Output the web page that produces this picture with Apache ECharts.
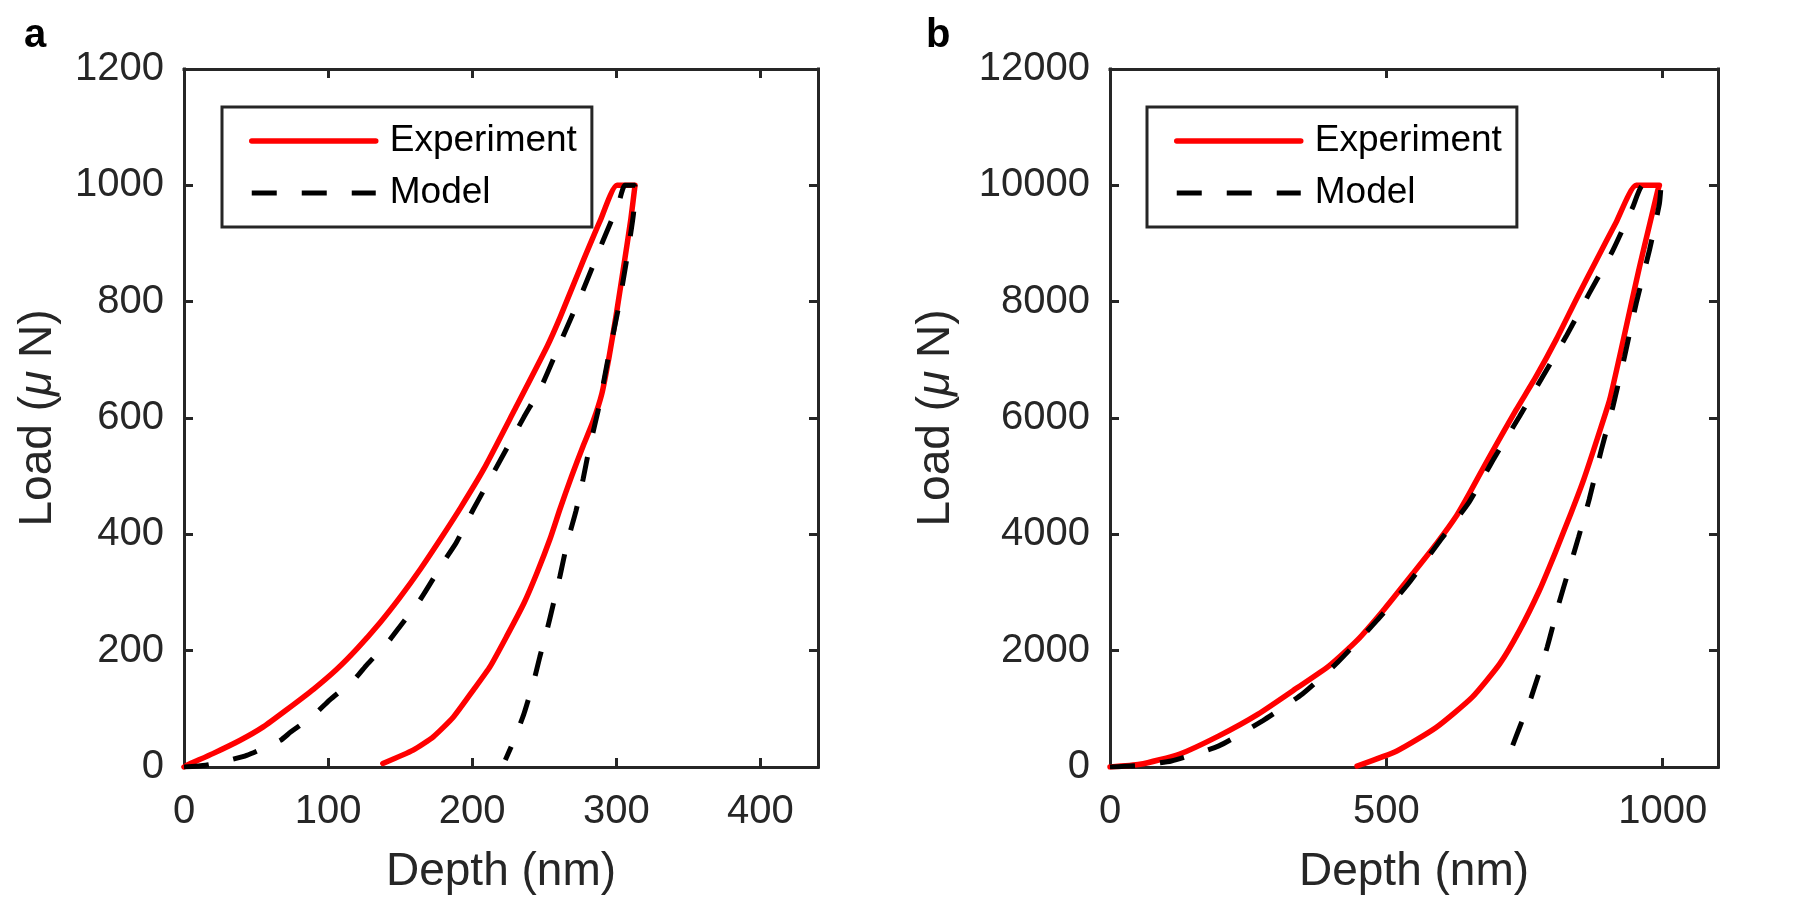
<!DOCTYPE html>
<html>
<head>
<meta charset="utf-8">
<script src="https://cdn.jsdelivr.net/npm/echarts@6/dist/echarts.min.js"></script>
<style>
html,body{margin:0;padding:0;background:#fff;}
#chart{width:1800px;height:900px;}
</style>
</head>
<body>
<div id="chart"></div>
<script>
// ---- Panel a data ----
const depthExpA  = [0,2,20,39,55,71,90,106,120,136,150,164,178,192,208,229,252,261,275,289,300.5,313,310,305,300,295,290,284,277,269,261,254,245,236,224,212.5,201,187,173,159,138];
const loadExpA   = [0,3,23,46,69,98,134,168,203,248,292,340,392,446,512,612,723,773,858,940,1000,1000,940,858,778,705,642,595,552,500,444,392,334,282,225,173,133,86,52,29,6];
const depthModelA = [0,15,27,43.5,67,74,90,101,118,127,141,150,164,180,189,201,215,236,248,263,277,291,301.6,306,313,312,307,301,294,287.5,281,277,272,266,261,256,252,247,243,236,229,223];
const loadModelA  = [0,3,9,20,46,60,89,115,150,176,213,242,288,352,386,444,507,602,654,740,820,906,969,1000,1000,952,869,783,698,614,545,495,440,386,329,277,236,190,150,92,46,12];

// ---- Panel b data ----
const depthExpB  = [0,54,125,197,268,340,397,447,497,548,591,626,650,687,735,771,807,843,880,916,952,994,991,976,958,940,922,904,883,857,834,805,777,741,705,655,590,519,447];
const loadExpB   = [0,46,219,535,909,1370,1744,2176,2722,3327,3845,4305,4700,5343,6143,6714,7343,8029,8714,9371,10000,10000,9914,9314,8600,7829,7057,6314,5686,4940,4363,3672,3039,2349,1773,1197,679,276,17];
const depthModelB = [0,50,111,197,276,348,412,483,540,598,650,695,741,783,825,867,910,946,964,997,994,976,952,931,910,889,867,848,830,812,791,762,741,727];
const loadModelB  = [0,25,104,363,794,1255,1801,2520,3154,3902,4560,5310,6029,6714,7400,8143,8886,9629,10000,10000,9686,8886,7971,7057,6200,5457,4600,3960,3384,2809,2061,1197,679,334];

// ---- Axis ticks ----
const xTicksA = [0,100,200,300,400];
const yTicksA = [0,200,400,600,800,1000,1200];
const xTicksB = [0,500,1000];
const yTicksB = [0,2000,4000,6000,8000,10000,12000];
const xMaxA = 440, yMaxA = 1200, xMaxB = 1100, yMaxB = 12000;

const seriesNames = ['Experiment','Model'];
const panelLabels = ['a','b'];
const xTitle = 'Depth (nm)';
const yTitle = 'Load ({mu|μ} N)';

function zip(a,b){ return a.map((v,i)=>[v,b[i]]); }

const FONT = 'Liberation Sans, Arial, Helvetica, sans-serif';
const AX = '#262626';
const RED = '#ff0000';
const BLACK = '#000000';

function baseAxis(grid, max, ticks, pos, showLabel, extra){
  return Object.assign({
    type:'value', gridIndex:grid, min:0, max:max, position:pos,
    axisLine:{show:true, onZero:false, lineStyle:{color:AX, width:3, cap:'square'}},
    axisTick:{show:true, inside:true, length:9, customValues:ticks, lineStyle:{color:AX, width:3}},
    axisLabel:{show:showLabel, customValues:ticks, color:AX, fontSize:40, fontFamily:FONT,
               formatter:function(v){ return String(v); }},
    splitLine:{show:false}
  }, extra||{});
}

const xNameStyle = {fontSize:46, color:AX, fontFamily:FONT};
const yNameStyle = {fontSize:46, color:AX, fontFamily:FONT, rich:{mu:{fontSize:46, color:AX, fontFamily:FONT, fontStyle:'italic'}}};

const xAxes = [
  baseAxis(0, xMaxA, xTicksA, 'bottom', true, {name:xTitle, nameLocation:'middle', nameGap:82, nameTextStyle:xNameStyle}),
  baseAxis(0, xMaxA, xTicksA, 'top', false),
  baseAxis(1, xMaxB, xTicksB, 'bottom', true, {name:xTitle, nameLocation:'middle', nameGap:82, nameTextStyle:xNameStyle}),
  baseAxis(1, xMaxB, xTicksB, 'top', false)
];
xAxes[0].axisLabel.margin = 25; xAxes[2].axisLabel.margin = 25;

const yAxes = [
  baseAxis(0, yMaxA, yTicksA, 'left', true, {name:yTitle, nameLocation:'middle', nameGap:123, nameTextStyle:yNameStyle}),
  baseAxis(0, yMaxA, yTicksA, 'right', false),
  baseAxis(1, yMaxB, yTicksB, 'left', true, {name:yTitle, nameLocation:'middle', nameGap:151, nameTextStyle:yNameStyle}),
  baseAxis(1, yMaxB, yTicksB, 'right', false)
];
yAxes[0].axisLabel.margin = 20; yAxes[2].axisLabel.margin = 20;

function expSeries(xi, yi, data){
  return {name:seriesNames[0], type:'line', xAxisIndex:xi, yAxisIndex:yi, data:data,
    symbol:'none', showSymbol:false, clip:true, z:2, smooth:0.18,
    lineStyle:{color:RED, width:5.5, cap:'round', join:'round'}, itemStyle:{color:RED}};
}
function modelSeries(xi, yi, data){
  return {name:seriesNames[1], type:'line', xAxisIndex:xi, yAxisIndex:yi, data:data,
    symbol:'none', showSymbol:false, clip:true, z:3, smooth:0.18,
    lineStyle:{color:BLACK, width:5, type:[25,25], cap:'butt'}, itemStyle:{color:BLACK}};
}

const hiddenSym = {color:'rgba(0,0,0,0)', borderWidth:0, opacity:0};
function legendAt(left){
  return {left:left, top:107, orient:'vertical', selectedMode:false,
    data:[
      {name:seriesNames[0], itemStyle:hiddenSym, lineStyle:{width:5.5, color:RED, type:'solid'}},
      {name:seriesNames[1], itemStyle:hiddenSym, lineStyle:{width:5, color:BLACK, type:[25,25]}}
    ],
    itemWidth:124, itemHeight:14, itemGap:12, padding:[14,15,14,27],
    borderColor:AX, borderWidth:3, backgroundColor:'#fff',
    textStyle:{fontSize:37, color:'#000', fontFamily:FONT, lineHeight:40, padding:[0,0,0,9]}};
}

const chart = echarts.init(document.getElementById('chart'), null, {renderer:'canvas'});
chart.setOption({
  backgroundColor:'#ffffff',
  animation:false,
  title:[
    {text:panelLabels[0], left:24, top:16, padding:0, textStyle:{fontSize:40, fontWeight:'bold', color:'#000', fontFamily:FONT}},
    {text:panelLabels[1], left:926, top:16, padding:0, textStyle:{fontSize:40, fontWeight:'bold', color:'#000', fontFamily:FONT}}
  ],
  grid:[
    {left:184, right:982, top:69, bottom:132},
    {left:1110, right:82, top:69, bottom:132}
  ],
  legend:[legendAt(222), legendAt(1147)],
  xAxis:xAxes,
  yAxis:yAxes,
  series:[
    expSeries(0,0,zip(depthExpA,loadExpA)),
    modelSeries(0,0,zip(depthModelA,loadModelA)),
    expSeries(2,2,zip(depthExpB,loadExpB)),
    modelSeries(2,2,zip(depthModelB,loadModelB))
  ]
});
</script>
</body>
</html>
